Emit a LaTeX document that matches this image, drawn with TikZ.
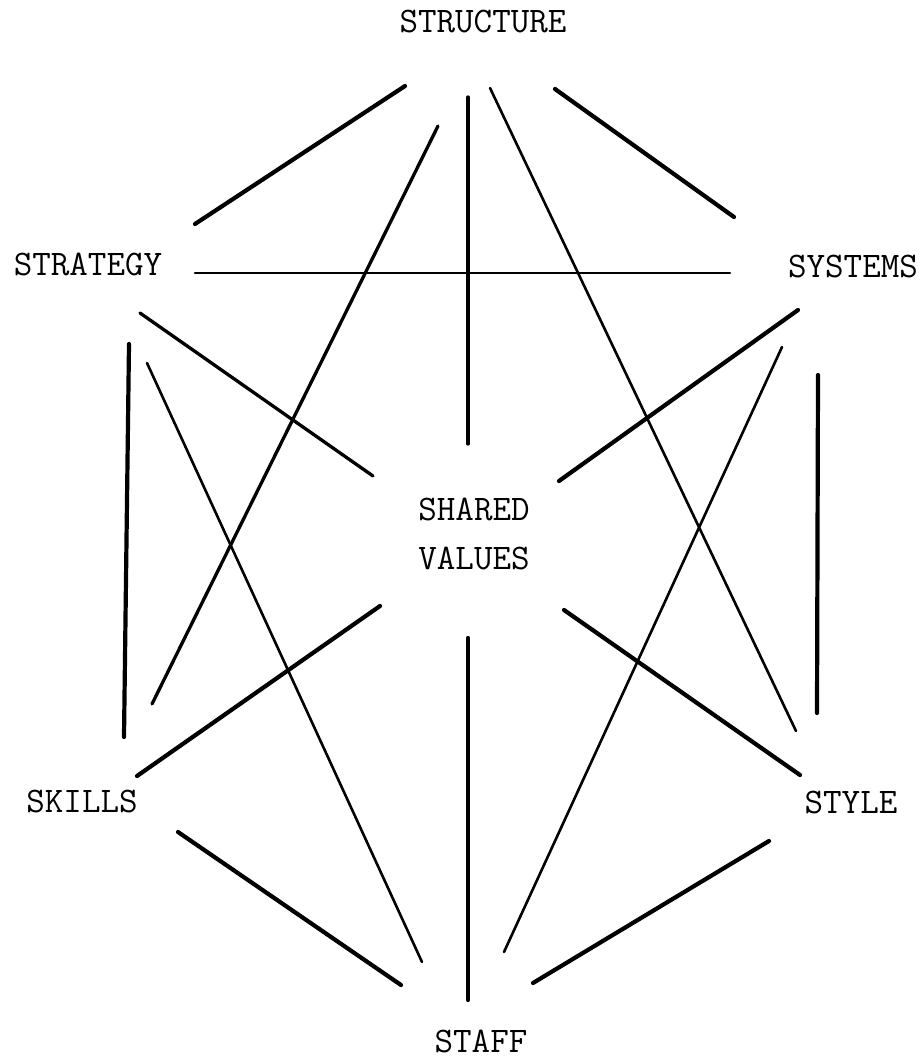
\documentclass[tikz,border=0pt]{standalone}
\begin{document}
\begin{tikzpicture}[x=1pt,y=-1pt,
  label/.style={font=\ttfamily\fontsize{36}{49}\selectfont,inner sep=0pt},
  heavy/.style={line width=4.2pt,line cap=round},
  medium/.style={line width=3.3pt,line cap=round},
  light/.style={line width=2.6pt,line cap=round}]
  \useasboundingbox (0,0) rectangle (923,1061);
  \node[label,anchor=base] (Tr) at (483,32) {STRUCTURE};
  \node[label,anchor=base] (Sg) at (88,275) {STRATEGY};
  \node[label,anchor=base] (Sy) at (853,277) {SYSTEMS};
  \node[label,align=center] (Sv) at (474,534) {SHARED\\VALUES};
  \node[label,anchor=base] (Sk) at (82,812) {SKILLS};
  \node[label,anchor=base] (Sl) at (851,813) {STYLE};
  \node[label,anchor=base] (Sf) at (481,1052) {STAFF};
  \coordinate (TrSg) at (405,86);   \coordinate (SgTr) at (195,224);
  \coordinate (TrSy) at (555,89);   \coordinate (SyTr) at (734,217);
  \coordinate (TrSv) at (468,97);   \coordinate (SvTr) at (468,444);
  \coordinate (TrSk) at (438,126);  \coordinate (SkTr) at (152,704);
  \coordinate (TrSl) at (490,88);   \coordinate (SlTr) at (796,731);
  \coordinate (SgSy) at (195,273);  \coordinate (SySg) at (730,273);
  \coordinate (SgSv) at (140,313);  \coordinate (SvSg) at (373,476);
  \coordinate (SgSk) at (129,344);  \coordinate (SkSg) at (124,737);
  \coordinate (SgSf) at (147,363);  \coordinate (SfSg) at (422,962);
  \coordinate (SySv) at (798,310);  \coordinate (SvSy) at (559,481);
  \coordinate (SySl) at (818,375);  \coordinate (SlSy) at (817,713);
  \coordinate (SySf) at (782,347);  \coordinate (SfSy) at (504,952);
  \coordinate (SvSk) at (380,606);  \coordinate (SkSv) at (137,776);
  \coordinate (SvSl) at (564,610);  \coordinate (SlSv) at (800,775);
  \coordinate (SvSf) at (468,638);  \coordinate (SfSv) at (468,1000);
  \coordinate (SkSf) at (178,832);  \coordinate (SfSk) at (401,985);
  \coordinate (SlSf) at (769,841);  \coordinate (SfSl) at (533,983);
  \draw[heavy] (TrSg)--(SgTr);
  \draw[heavy] (TrSy)--(SyTr);
  \draw[medium] (TrSv)--(SvTr);
  \draw[medium] (TrSk)--(SkTr);
  \draw[light] (TrSl)--(SlTr);
  \draw[light] (SgSy)--(SySg);
  \draw[medium] (SgSv)--(SvSg);
  \draw[heavy] (SgSk)--(SkSg);
  \draw[light] (SgSf)--(SfSg);
  \draw[heavy] (SySv)--(SvSy);
  \draw[heavy] (SySl)--(SlSy);
  \draw[light] (SySf)--(SfSy);
  \draw[heavy] (SvSk)--(SkSv);
  \draw[heavy] (SvSl)--(SlSv);
  \draw[heavy] (SvSf)--(SfSv);
  \draw[heavy] (SkSf)--(SfSk);
  \draw[heavy] (SlSf)--(SfSl);
\end{tikzpicture}
\end{document}
